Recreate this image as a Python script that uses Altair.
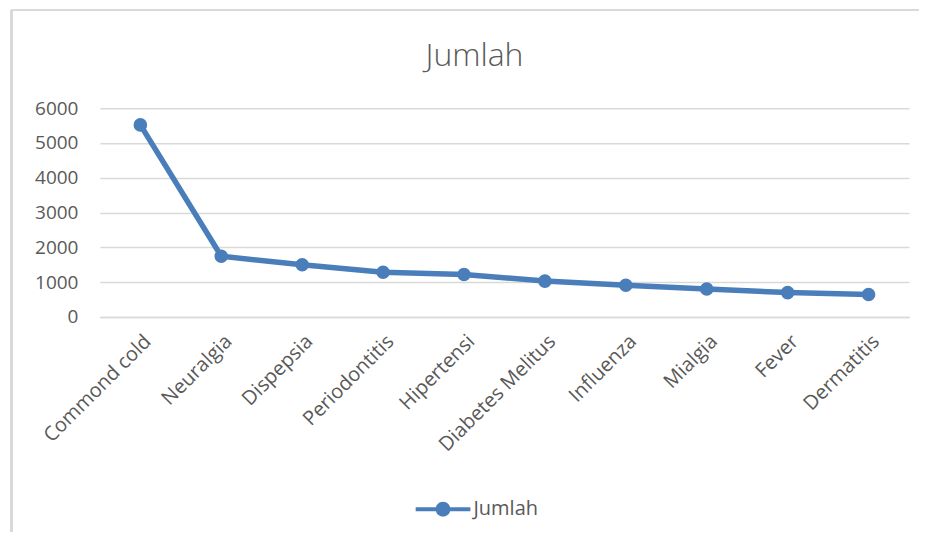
import altair as alt
import pandas as pd

categories = ["Commond cold", "Neuralgia", "Dispepsia", "Periodontitis", "Hipertensi",
              "Diabetes Melitus", "Influenza", "Mialgia", "Fever", "Dermatitis"]
values = [5520, 1745, 1500, 1285, 1220, 1030, 910, 805, 700, 645]
series = ["Jumlah"] * len(categories)
y_ticks = [0, 1000, 2000, 3000, 4000, 5000, 6000]

df = pd.DataFrame({"Penyakit": categories, "Jumlah": values, "Seri": series})

FONT = "Open Sans"
GREY = "#595959"
BLUE = "#4a7ebb"
BORDER = "#d9d9d9"

legend_symbol = ("M-1,-0.075L1,-0.075L1,0.075L-1,0.075Z "
                 "M-0.27,0A0.27,0.27 0 1,1 0.27,0A0.27,0.27 0 1,1 -0.27,0Z")

line = alt.Chart(df).mark_line(
    strokeWidth=5.5,
    point=alt.OverlayMarkDef(filled=True, size=185, color=BLUE, opacity=1),
).encode(
    x=alt.X("Penyakit:N", sort=categories, title=None,
            scale=alt.Scale(type="point", padding=0.5),
            axis=alt.Axis(labelAngle=-45, labelFontSize=20, labelColor=GREY,
                          labelFont=FONT, ticks=False, domainColor=BORDER,
                          domainWidth=1.5, labelPadding=14, grid=False)),
    y=alt.Y("Jumlah:Q", title=None,
            scale=alt.Scale(domain=[0, 6000], nice=False),
            axis=alt.Axis(values=y_ticks, format="d", labelFontSize=19, labelColor=GREY,
                          labelFont=FONT, ticks=False, domain=False,
                          gridColor=BORDER, gridWidth=1.5, labelPadding=22,
                          minExtent=92, maxExtent=92)),
    color=alt.Color("Seri:N", scale=alt.Scale(range=[BLUE]),
                    legend=alt.Legend(title=None, orient="none", legendX=316, legendY=374,
                                      direction="horizontal",
                                      symbolType=legend_symbol, symbolSize=3000,
                                      symbolFillColor=BLUE, symbolStrokeWidth=0,
                                      labelFontSize=20, labelColor=GREY, labelFont=FONT,
                                      labelOffset=3)),
)

frame_top = alt.Chart(df).mark_rule(color=BORDER, strokeWidth=1.5).encode(
    x=alt.value(-88.5), x2=alt.value(820), y=alt.value(-98)
)
frame_left = alt.Chart(df).mark_rule(color=BORDER, strokeWidth=2.5).encode(
    x=alt.value(-88.5), y=alt.value(-98), y2=alt.value(424)
)

chart = alt.layer(frame_top, frame_left, line).properties(
    width=810,
    height=209,
    title=alt.TitleParams("Jumlah", fontSize=32, font=FONT, color=GREY,
                          fontWeight=300, anchor="middle", offset=-64, dx=-30),
    padding={"left": 0, "top": 0, "right": 0, "bottom": 0},
).configure_view(stroke=None)

chart.save("out.html", embed_options={"renderer": "svg", "actions": False})
